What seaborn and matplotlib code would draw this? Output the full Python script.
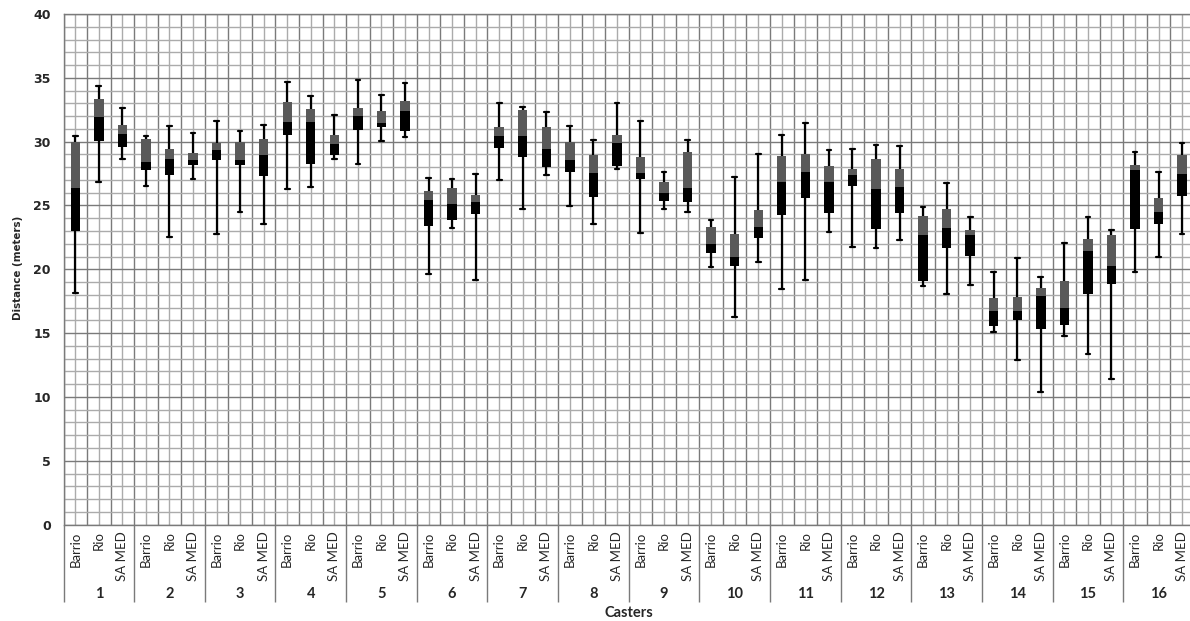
import numpy as np
import pandas as pd
import matplotlib
matplotlib.use("Agg")
import matplotlib.pyplot as plt
import seaborn as sns
from matplotlib.transforms import blended_transform_factory
from matplotlib.ticker import MultipleLocator

casters = [str(i) for i in range(1, 17)]
methods = ["Barrio", "Rio", "SA MED"]

mins = [18.14, 26.83, 28.63, 26.55, 22.53, 27.07, 22.79, 24.51, 23.57, 26.28, 26.44, 28.63,
        28.24, 30.07, 30.38, 19.61, 23.23, 19.19, 26.99, 24.72, 27.41, 24.95, 23.55, 27.87,
        22.84, 24.72, 24.48, 20.18, 16.27, 20.57, 18.46, 19.17, 22.92, 21.75, 21.67, 22.32,
        18.72, 18.07, 18.77, 15.10, 12.91, 10.40, 14.81, 13.37, 11.38, 19.79, 21.00, 22.76]
q1s = [23.00, 30.07, 29.62, 27.74, 27.38, 28.14, 28.53, 28.14, 27.27, 30.56, 28.21, 28.92,
       30.95, 31.11, 30.87, 23.36, 23.83, 24.30, 29.54, 28.76, 27.98, 27.59, 25.63, 28.06,
       27.04, 25.32, 25.27, 21.25, 20.23, 22.43, 24.22, 25.55, 24.38, 26.49, 23.13, 24.38,
       19.06, 21.64, 21.02, 15.59, 16.01, 15.31, 15.62, 18.04, 18.83, 23.13, 23.52, 25.71]
medians = [26.33, 31.90, 30.61, 28.42, 28.66, 28.58, 29.36, 28.58, 28.97, 31.55, 31.55, 29.78,
           32.02, 31.47, 32.44, 25.40, 25.11, 25.24, 30.48, 30.48, 29.39, 28.58, 27.56, 29.91,
           27.56, 25.95, 26.36, 21.98, 20.99, 23.31, 26.86, 27.64, 26.86, 27.41, 26.31, 26.47,
           22.71, 23.26, 22.66, 16.77, 16.77, 17.92, 16.95, 21.46, 20.29, 27.80, 24.51, 27.48]
q3s = [30.00, 33.35, 31.29, 30.20, 29.41, 29.10, 29.88, 30.00, 30.20, 33.09, 32.57, 30.53,
       32.65, 32.41, 33.19, 26.15, 26.36, 25.81, 31.16, 32.49, 31.16, 29.99, 28.97, 30.51,
       28.79, 26.83, 29.18, 23.29, 22.76, 24.64, 28.89, 29.02, 28.06, 27.85, 28.63, 27.85,
       24.17, 24.72, 23.10, 17.76, 17.84, 18.54, 19.11, 22.37, 22.71, 28.19, 25.58, 28.94]
maxs = [30.45, 34.34, 32.62, 30.46, 31.21, 30.67, 31.60, 30.82, 31.34, 34.68, 33.56, 32.07,
        34.84, 33.64, 34.58, 27.12, 27.07, 27.48, 32.99, 32.75, 32.31, 31.21, 30.12, 32.99,
        31.60, 27.61, 30.12, 23.86, 27.22, 29.02, 30.51, 31.45, 29.31, 29.41, 29.73, 29.65,
        24.88, 26.75, 24.09, 19.79, 20.86, 19.40, 22.06, 24.09, 23.05, 29.18, 27.61, 29.86]

keys = [f"{c}-{m}" for c in casters for m in methods]
rows_full, rows_low = [], []
for k, lo, a, md, b, hi in zip(keys, mins, q1s, medians, q3s, maxs):
    for v in (lo, a, md, b, hi):
        rows_full.append((k, v))
    for v in (a, a, md, md, md):
        rows_low.append((k, v))
df_full = pd.DataFrame(rows_full, columns=["key", "value"])
df_low = pd.DataFrame(rows_low, columns=["key", "value"])

sns.set_theme(style="white")
plt.rcParams["font.family"] = ["Lato", "DejaVu Sans"]

W, H = 1190, 621
fig = plt.figure(figsize=(W / 100, H / 100), dpi=100)
left_px, right_px, top_px, bot_px = 63.5, 1193.9, 14.0, 524.6
ax = fig.add_axes([left_px / W, (H - bot_px) / H, (right_px - left_px) / W, (bot_px - top_px) / H])

sns.boxplot(data=df_full, x="key", y="value", order=keys, ax=ax, whis=(0, 100), width=0.4,
            color="#595959", fill=True, linecolor="black", linewidth=1.6, showfliers=False,
            boxprops=dict(facecolor="#595959", edgecolor="none", linewidth=0),
            medianprops=dict(linewidth=0),
            whiskerprops=dict(color="black", linewidth=1.6),
            capprops=dict(color="black", linewidth=1.6))
sns.boxplot(data=df_low, x="key", y="value", order=keys, ax=ax, whis=(0, 100), width=0.4,
            color="black", fill=True, showfliers=False, showcaps=False,
            boxprops=dict(facecolor="black", edgecolor="none", linewidth=0),
            medianprops=dict(linewidth=0), whiskerprops=dict(linewidth=0))

n = len(keys)
ax.set_xlim(-0.5, n - 0.5)
ax.set_ylim(0, 40)
ax.yaxis.set_major_locator(MultipleLocator(5))
ax.yaxis.set_minor_locator(MultipleLocator(1))
ax.set_xticks(np.arange(n))
ax.set_xticklabels(methods * len(casters), rotation=90, fontsize=9.5, va="top", ha="center")
ax.set_xticks(np.arange(-0.5, n, 1), minor=True)

ax.set_axisbelow(True)
ax.grid(which="major", axis="y", color="#7a7a7a", lw=1.0)
ax.grid(which="minor", axis="y", color="#ababab", lw=1.0)
ax.grid(which="major", axis="x", color="#ababab", lw=1.0)
ax.grid(which="minor", axis="x", color="#7a7a7a", lw=1.0)

ax.tick_params(axis="x", which="major", length=0, pad=5)
ax.tick_params(axis="x", which="minor", length=37.7, width=1.0, color="#7a7a7a", direction="out")
ax.tick_params(axis="y", which="major", length=3.6, width=1.0, color="#7a7a7a", direction="out",
               pad=5.5, labelsize=9)
ax.tick_params(axis="y", which="minor", length=0)
for lab in ax.get_yticklabels():
    lab.set_fontfamily("DejaVu Sans")
    lab.set_fontweight("bold")
ax.set_xlabel("")
ax.set_ylabel("")

for side in ["left", "bottom", "top"]:
    ax.spines[side].set_visible(True)
    ax.spines[side].set_color("#7a7a7a")
    ax.spines[side].set_linewidth(1.0)
ax.spines["right"].set_visible(False)

ax_h = bot_px - top_px
trans = blended_transform_factory(ax.transData, ax.transAxes)
ax.vlines(np.arange(-0.5, n, 3), -(602 - bot_px) / ax_h, 0, transform=trans, color="#7a7a7a",
          lw=1.0, clip_on=False)
for i, c in enumerate(casters):
    ax.text(i * 3 + 1, -(594 - bot_px) / ax_h, c, transform=trans, ha="center", va="center",
            fontsize=10.5, fontweight="bold")

ax.text(0.5, -(613 - bot_px) / ax_h, "Casters", transform=ax.transAxes, ha="center",
        va="center", fontsize=10.5, fontweight="bold")
fig.text(18 / W, 1 - 268 / H, "Distance (meters)", rotation=90, ha="center", va="center",
         fontsize=7.4, fontweight="bold", family="DejaVu Sans")

fig.savefig("out.png", dpi=100)
